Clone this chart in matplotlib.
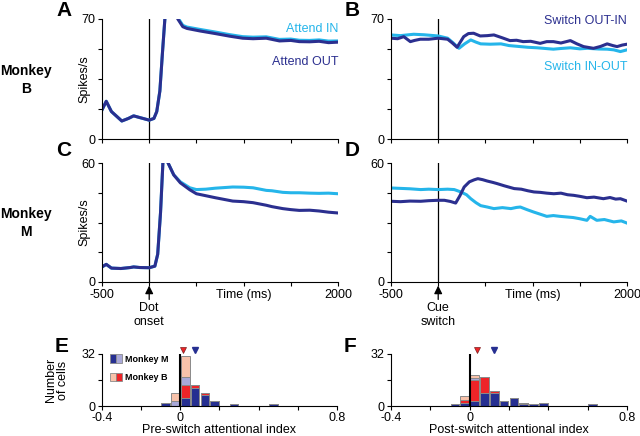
import numpy as np
import matplotlib
matplotlib.use("Agg")
import matplotlib.pyplot as plt
import matplotlib.transforms as mtransforms
from matplotlib.patches import Patch
from matplotlib.legend_handler import HandlerTuple

plt.rcParams['font.family'] = ['Liberation Sans', 'DejaVu Sans']
plt.rcParams['font.size'] = 9

DARK = '#2b2f8f'
LIGHT = '#25b5ea'
M_SIG = '#262f91'
M_NS = '#a9a8d8'
B_SIG = '#ee2428'
B_NS = '#f8c2aa'

# ---- panel A : Monkey B, dot onset ----
tA = [-500, -455, -400, -290, -220, -165, -100, 0, 50, 80, 113, 140, 166, 200, 250,
      303, 356, 400, 540, 700, 850, 990, 1100, 1240, 1380, 1500, 1590, 1700, 1800, 1900, 2000]
attend_out_A = [17, 22, 16, 10.5, 12, 13.5, 12.5, 11, 12, 16, 28, 50, 70, 85, 80,
                70, 65.5, 64.5, 63, 61.5, 60, 58.8, 58.5, 58.8, 57.2, 57.5, 56.8, 56.7, 57, 56.2, 56.5]
attend_in_A = [17, 22, 16, 10.5, 12, 13.5, 12.5, 11, 12, 16, 28, 50, 70, 85, 80,
               70.8, 66.3, 65.3, 63.9, 62.4, 60.9, 59.7, 59.4, 59.6, 58.1, 58.3, 57.6, 57.5, 57.8, 57.1, 57.2]

# ---- panel C : Monkey M, dot onset ----
tC = [-500, -455, -400, -300, -200, -165, -100, 0, 60, 90, 120, 145, 170, 200, 260, 330,
      430, 500, 600, 700, 885, 1000, 1100, 1240, 1300, 1415, 1500, 1590, 1700, 1800, 1900, 2000]
attend_out_C = [7.6, 8.9, 7, 6.8, 7.3, 7.6, 7.3, 7.2, 8, 14, 35, 60, 72, 60, 54, 50,
                46.5, 44.5, 43.5, 42.5, 40.8, 40.5, 40, 38.7, 38, 37, 36.5, 36.1, 36.2, 35.8, 35.2, 34.8]
attend_in_C = [7.6, 8.9, 7, 6.8, 7.3, 7.6, 7.3, 7.2, 8, 14, 35, 60, 72, 60, 54, 50.5,
               47.5, 46.6, 46.8, 47.3, 47.9, 47.8, 47.5, 46.2, 46, 45.2, 45, 45, 44.8, 44.7, 44.8, 44.5]

# ---- panel B : Monkey B, cue switch ----
tB_out_in = [-500, -430, -365, -295, -250, -190, -100, 0, 100, 150, 200, 270, 320, 375, 445, 520, 590,
             680, 760, 830, 900, 980, 1080, 1150, 1220, 1300, 1400, 1470, 1540, 1645, 1720, 1790,
             1850, 1895, 1950, 2000]
switch_out_in_B = [58.8, 58.5, 59.7, 56.8, 57.5, 58.2, 58.2, 58.8, 58.2, 56, 53.5, 59.7, 61.5, 61.7,
                   60.1, 60.3, 60.7, 59, 57.4, 57.6, 56.8, 57, 55.8, 56.8, 56.8, 56, 57.4, 55.5, 53.9,
                   52.9, 54, 55.5, 54.5, 53.9, 54.8, 55.3]
tB_in_out = [-500, -400, -260, -150, 0, 100, 160, 220, 280, 345, 400, 450, 550, 665, 750, 870, 950,
             1050, 1220, 1300, 1400, 1500, 1580, 1700, 1790, 1860, 1930, 2000]
switch_in_out_B = [60.7, 60.3, 61.1, 60.8, 60.1, 58.8, 56, 52.9, 55.5, 57.8, 56.5, 55.5, 55.3, 55.5,
                   54.5, 53.9, 53.5, 53.2, 52.4, 52.8, 53.2, 52.6, 52.9, 52.5, 52.4, 52, 51, 52]

# ---- panel D : Monkey M, cue switch ----
tD_in_out = [-500, -400, -300, -185, -100, 0, 100, 170, 240, 300, 345, 400, 450, 520, 590, 680, 770,
             830, 870, 940, 1010, 1080, 1150, 1220, 1290, 1360, 1430, 1500, 1575, 1610, 1680, 1760,
             1860, 1940, 2000]
switch_in_out_D = [47.4, 47.2, 47, 46.6, 46.8, 46.6, 46.8, 46.6, 45.4, 44, 42, 40, 38.5, 37.8, 37,
                   37.5, 37, 37.6, 37.8, 36.5, 35.3, 34.2, 33.1, 33.5, 33.1, 32.8, 32.5, 31.9, 31.1,
                   33.1, 31.1, 31.5, 30.3, 30.8, 29.7]
tD_out_in = [-500, -400, -300, -185, -100, 0, 65, 130, 185, 230, 275, 330, 380, 420, 470, 520, 580,
             625, 700, 805, 880, 950, 1015, 1080, 1150, 1225, 1300, 1370, 1435, 1500, 1575, 1650,
             1750, 1820, 1880, 1930, 2000]
switch_out_in_D = [40.7, 40.5, 40.8, 40.7, 41, 41.2, 41.2, 40.6, 39.8, 43.5, 47.9, 50.5, 51.5, 52.1,
                   51.6, 50.9, 50.2, 49.6, 48.5, 47.1, 46.8, 46, 45.4, 45.2, 44.8, 44.5, 44.8, 44,
                   43.7, 43.2, 42.5, 42.8, 42, 42.6, 41.8, 42, 40.8]

# ---- histograms (bin left edges, counts) ----
binsE = [-0.10, -0.05, 0.0, 0.05, 0.10, 0.15, 0.25, 0.45]
E_m_sig = [2, 0, 5, 11, 7, 3, 1, 1]
E_b_sig = [0, 0, 8, 2, 1, 0, 0, 0]
E_m_ns = [0, 3, 5, 0, 0, 0, 0, 0]
E_b_ns = [0, 5, 13, 0, 0, 0, 0, 0]
E_means = [0.015, 0.077]   # monkey B, monkey M

binsF = [-0.10, -0.05, 0.0, 0.05, 0.10, 0.15, 0.20, 0.25, 0.30, 0.35, 0.60]
F_m_sig = [1, 2, 3, 8, 8, 3, 5, 1, 1, 2, 1]
F_b_sig = [0, 2, 13, 10, 1, 0, 0, 1, 0, 0, 0]
F_m_ns = [0, 0, 1, 0, 0, 0, 0, 0, 0, 0, 0]
F_b_ns = [0, 2, 2, 0, 0, 0, 0, 0, 0, 0, 0]
F_means = [0.035, 0.125]

binwidth = 0.05

fig = plt.figure(figsize=(6.4, 4.36), dpi=100)


def px(l, b, r, t):
    return [l / 640, 1 - b / 436, (r - l) / 640, (b - t) / 436]


def psth_axes(rect, ymax, bottom_labels):
    ax = fig.add_axes(rect)
    ax.set_xlim(-500, 2000)
    ax.set_ylim(0, ymax)
    for s in ['top', 'right']:
        ax.spines[s].set_visible(False)
    for s in ['left', 'bottom']:
        ax.spines[s].set_linewidth(0.8)
    ax.set_xticks([-500, 0, 500, 1000, 1500, 2000])
    if bottom_labels:
        ax.set_xticklabels(['-500', '', '', 'Time (ms)', '', '2000'])
    else:
        ax.set_xticklabels([])
    ax.set_yticks(np.linspace(0, ymax, 5))
    ax.set_yticklabels(['0', '', '', '', str(ymax)])
    ax.tick_params(length=3, width=0.8, pad=2)
    ax.axvline(0, color='k', lw=0.9)
    return ax


axA = psth_axes(px(102, 139, 338, 19), 70, False)
axA.plot(tA, attend_in_A, color=LIGHT, lw=2.2)
axA.plot(tA, attend_out_A, color=DARK, lw=2.2)
axA.set_ylabel('Spikes/s')
axA.yaxis.set_label_coords(-0.05, 0.5)
axA.text(1.0, 0.92, 'Attend IN', color=LIGHT, ha='right', va='center', transform=axA.transAxes)
axA.text(1.0, 0.64, 'Attend OUT', color=DARK, ha='right', va='center', transform=axA.transAxes)

axB = psth_axes(px(391, 139, 627, 19), 70, False)
axB.plot(tB_in_out, switch_in_out_B, color=LIGHT, lw=2.2)
axB.plot(tB_out_in, switch_out_in_B, color=DARK, lw=2.2)
axB.text(1.0, 0.985, 'Switch OUT-IN', color=DARK, ha='right', va='center', transform=axB.transAxes)
axB.text(1.0, 0.6, 'Switch IN-OUT', color=LIGHT, ha='right', va='center', transform=axB.transAxes)

axC = psth_axes(px(102, 282, 338, 163), 60, True)
axC.plot(tC, attend_in_C, color=LIGHT, lw=2.2)
axC.plot(tC, attend_out_C, color=DARK, lw=2.2)
axC.set_ylabel('Spikes/s')
axC.yaxis.set_label_coords(-0.05, 0.5)

axD = psth_axes(px(391, 282, 627, 163), 60, True)
axD.plot(tD_in_out, switch_in_out_D, color=LIGHT, lw=2.2)
axD.plot(tD_out_in, switch_out_in_D, color=DARK, lw=2.2)

for ax, lab in [(axC, 'Dot\nonset'), (axD, 'Cue\nswitch')]:
    trans = mtransforms.blended_transform_factory(ax.transData, ax.transAxes)
    ax.annotate(lab, xy=(0, -0.03), xycoords=trans, xytext=(0, -0.17), textcoords=trans,
                ha='center', va='top', linespacing=1.15, annotation_clip=False,
                arrowprops=dict(arrowstyle='-|>,head_length=0.6,head_width=0.3',
                                mutation_scale=8, color='k', lw=0.9, shrinkA=0, shrinkB=0))


def hist_axes(rect, bins, m_sig, b_sig, m_ns, b_ns, means, xlabel):
    ax = fig.add_axes(rect)
    left = np.array(bins)
    centers = left + binwidth / 2
    bottom = np.zeros(len(bins))
    for vals, col in [(m_sig, M_SIG), (b_sig, B_SIG), (m_ns, M_NS), (b_ns, B_NS)]:
        vals = np.array(vals, dtype=float)
        ax.bar(centers, vals, width=0.044, bottom=bottom, color=col,
               edgecolor='#8a8a8a', linewidth=0.7)
        bottom = bottom + vals
    ax.plot([0, 0], [0, 32], color='k', lw=1.5)
    ax.plot(means[0], 34.5, marker='v', ms=5, color=B_SIG, mec='#7a2020', mew=0.5, clip_on=False)
    ax.plot(means[1], 34.5, marker='v', ms=5, color=M_SIG, mec=M_SIG, clip_on=False)
    ax.set_xlim(-0.4, 0.8)
    ax.set_ylim(0, 32)
    for s in ['top', 'right']:
        ax.spines[s].set_visible(False)
    for s in ['left', 'bottom']:
        ax.spines[s].set_linewidth(0.8)
    ax.set_xticks([-0.4, -0.2, 0, 0.2, 0.4, 0.6, 0.8])
    ax.set_xticklabels(['-0.4', '', '0', '', '', '', '0.8'])
    ax.set_yticks([0, 16, 32])
    ax.set_yticklabels(['0', '', '32'])
    ax.tick_params(length=3, width=0.8, pad=1.5)
    ax.set_xlabel(xlabel, labelpad=0)
    return ax


axE = hist_axes(px(102, 406, 337, 354), binsE, E_m_sig, E_b_sig, E_m_ns, E_b_ns, E_means,
                'Pre-switch attentional index')
axE.set_ylabel('Number\nof cells', linespacing=1.0)
axE.yaxis.set_label_coords(-0.14, 0.5)
hM = (Patch(facecolor=M_SIG, edgecolor='#8a8a8a', lw=0.6), Patch(facecolor=M_NS, edgecolor='#8a8a8a', lw=0.6))
hB = (Patch(facecolor=B_NS, edgecolor='#8a8a8a', lw=0.6), Patch(facecolor=B_SIG, edgecolor='#8a8a8a', lw=0.6))
axE.legend([hM, hB], ['Monkey M', 'Monkey B'], handler_map={tuple: HandlerTuple(ndivide=None, pad=0)},
           loc='upper left', bbox_to_anchor=(0.02, 1.06), frameon=False,
           prop={'weight': 'bold', 'size': 6.5}, handlelength=1.3, handleheight=1.0,
           handletextpad=0.3, labelspacing=1.0, borderaxespad=0)

axF = hist_axes(px(391, 406, 627, 354), binsF, F_m_sig, F_b_sig, F_m_ns, F_b_ns, F_means,
                'Post-switch attentional index')

# panel letters and row labels
for lab, x, y in [('A', 64, 11), ('B', 352, 11), ('C', 64, 151), ('D', 352, 151),
                  ('E', 62, 346), ('F', 350, 346)]:
    fig.text(x / 640, 1 - y / 436, lab, fontsize=15, fontweight='bold', ha='center', va='center')
for lab, y in [('Monkey\nB', 80), ('Monkey\nM', 223)]:
    fig.text(26 / 640, 1 - y / 436, lab, fontsize=10, fontweight='bold', ha='center', va='center',
             linespacing=1.3)

fig.savefig('out.png', dpi=100)
